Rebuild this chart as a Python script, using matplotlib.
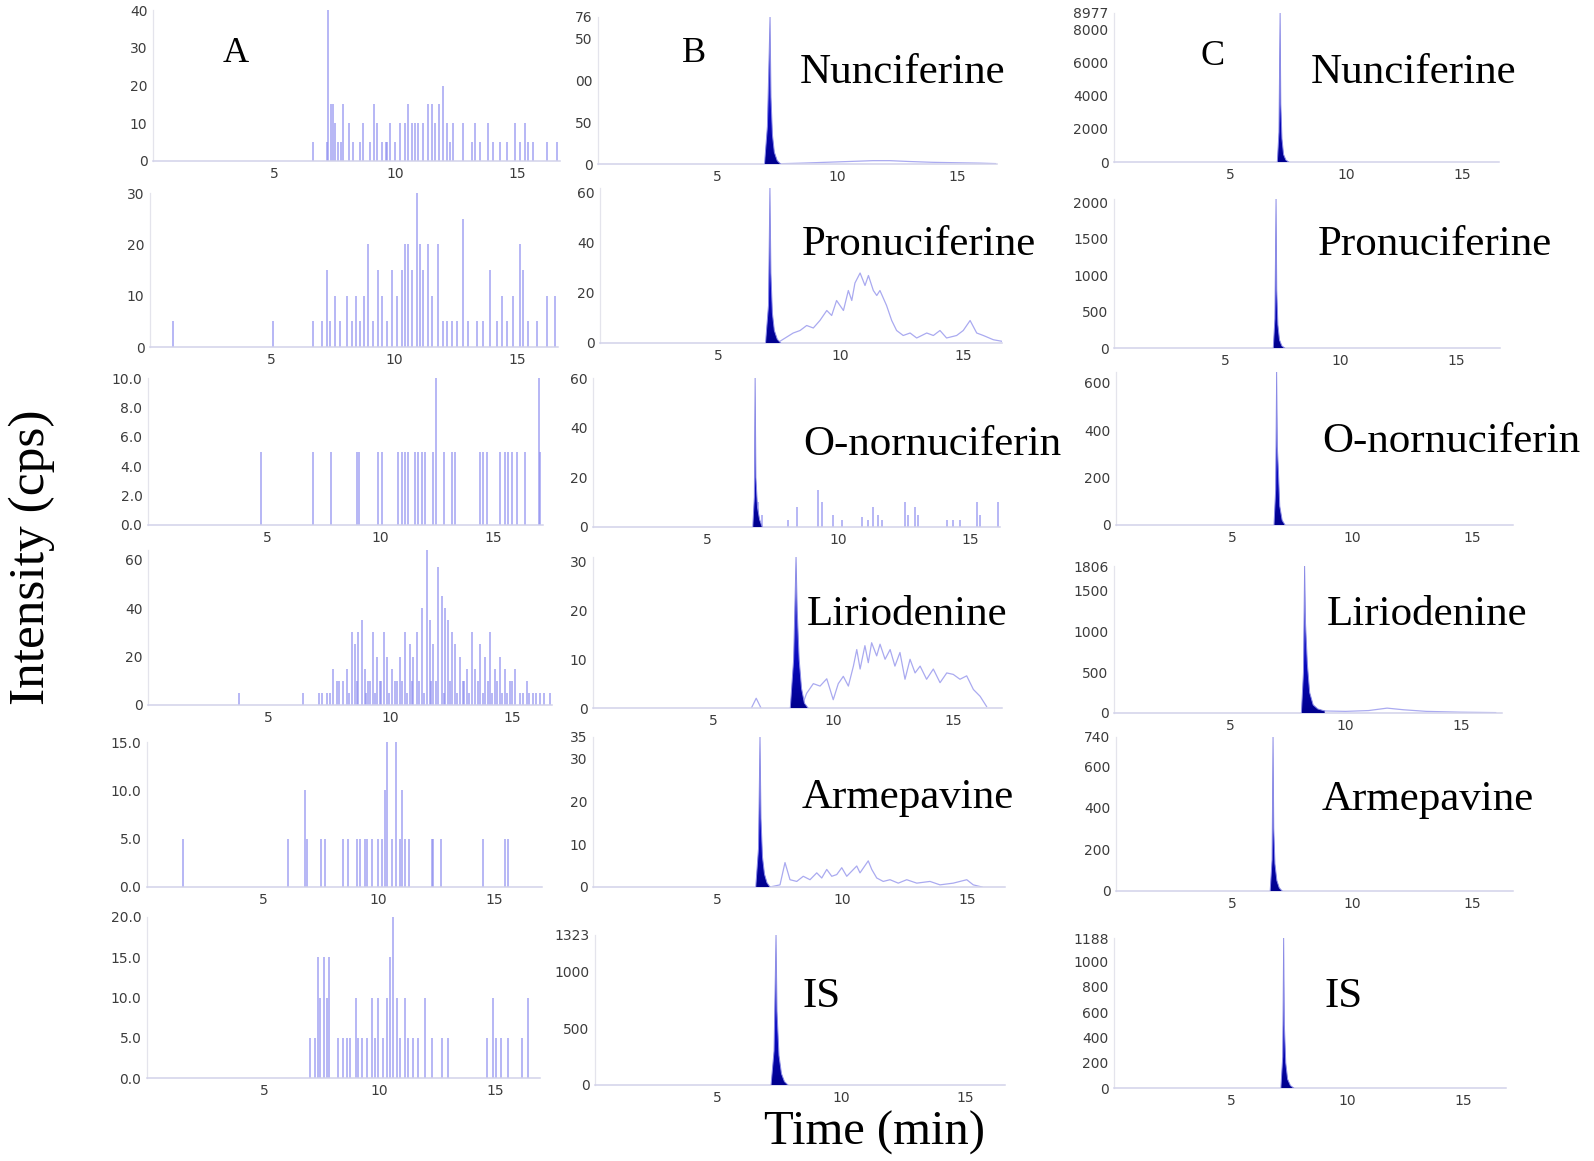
import numpy as np
import matplotlib
matplotlib.use("Agg")
import matplotlib.pyplot as plt
from matplotlib.colors import LinearSegmentedColormap

W, H = 1594, 1161

# ---------------- column A: blank samples, stick noise (time min, cps)
a1_t = [6.62, 7.17, 7.24, 7.33, 7.41, 7.51, 7.65, 7.74, 7.85, 8.10, 8.26, 8.54, 8.65,
        8.95, 9.11, 9.22, 9.43, 9.60, 9.66, 9.77, 9.98, 10.18, 10.39, 10.53, 10.66,
        10.80, 10.94, 11.15, 11.35, 11.49, 11.63, 11.77, 11.97, 12.10, 12.24, 12.38,
        12.79, 13.13, 13.27, 13.48, 13.82, 14.03, 14.30, 14.57, 14.92, 15.12, 15.33,
        15.47, 15.67, 16.22, 16.63]
a1_h = [5, 5, 40, 15, 15, 10, 5, 5, 15, 10, 5, 5, 10, 5, 15, 10, 5, 5, 5, 10, 5, 10, 10,
        15, 10, 10, 10, 10, 15, 15, 10, 15, 20, 10, 5, 10, 10, 5, 10, 5, 10, 5, 5, 5,
        10, 5, 10, 5, 5, 5, 5]

a2_t = [1.0, 5.09, 6.72, 7.06, 7.26, 7.40, 7.60, 7.80, 8.08, 8.28, 8.46, 8.62, 8.78,
        8.96, 9.13, 9.34, 9.50, 9.70, 9.91, 10.11, 10.31, 10.45, 10.58, 10.72, 10.92,
        11.06, 11.19, 11.40, 11.53, 11.80, 12.0, 12.14, 12.35, 12.55, 12.82, 13.02,
        13.36, 13.63, 13.90, 14.17, 14.38, 14.58, 14.85, 15.12, 15.26, 15.46, 15.80,
        16.21, 16.54]
a2_h = [5, 5, 5, 5, 15, 5, 10, 5, 10, 5, 10, 5, 10, 20, 5, 15, 10, 5, 15, 10, 15, 20,
        20, 15, 30, 20, 15, 20, 10, 20, 5, 5, 5, 5, 25, 5, 5, 5, 15, 5, 10, 5, 10, 20,
        15, 5, 5, 10, 10]

a3_t = [4.73, 7.02, 7.82, 8.97, 9.09, 9.93, 10.07, 10.81, 10.96, 11.11, 11.25, 11.55,
        11.70, 11.85, 12.0, 12.36, 12.48, 12.83, 13.17, 13.32, 14.42, 14.57, 14.72,
        15.31, 15.53, 15.68, 15.83, 16.05, 16.42, 17.05, 17.1]
a3_h = [5, 5, 5, 5, 5, 5, 5, 5, 5, 5, 5, 5, 5, 5, 5, 5, 10, 5, 5, 5, 5, 5, 5, 5, 5, 5,
        5, 5, 5, 10, 5]

a4_t = [3.82, 6.42, 7.10, 7.40, 7.68, 7.81, 8.09, 8.22, 8.43, 8.57, 8.70, 8.84, 8.98,
        9.11, 9.32, 9.45, 9.59, 9.75, 9.86, 10.07, 10.20, 10.41, 10.61, 10.82, 10.96,
        11.09, 11.30, 11.50, 11.64, 11.78, 11.98, 12.12, 12.25, 12.39, 12.53, 12.66,
        12.87, 13.0, 13.14, 13.35, 13.48, 13.69, 13.89, 14.10, 14.30, 14.51, 14.71,
        14.92, 15.12, 15.33, 15.60, 15.87, 16.15, 16.56]
a4_h = [5, 5, 5, 5, 15, 10, 10, 15, 30, 25, 30, 35, 15, 10, 30, 20, 10, 30, 20, 15, 10,
        20, 30, 25, 20, 30, 40, 64, 35, 25, 57, 45, 40, 35, 30, 25, 20, 10, 15, 30, 15,
        25, 20, 30, 15, 20, 15, 10, 15, 5, 10, 5, 5, 5]
a4_low_t = [7.2, 7.55, 7.9, 8.3, 8.65, 9.0, 9.2, 9.4, 9.65, 9.95, 10.3, 10.5, 10.7, 10.9,
            11.2, 11.4, 11.7, 11.9, 12.2, 12.45, 12.75, 13.05, 13.25, 13.6, 13.8, 14.0,
            14.2, 14.4, 14.6, 14.8, 15.0, 15.45, 15.7, 16.0, 16.3]
a4_low_h = [5, 5, 10, 5, 10, 5, 10, 5, 10, 5, 10, 10, 5, 10, 10, 5, 10, 10, 5, 10, 5,
            10, 5, 10, 5, 10, 5, 10, 5, 5, 10, 5, 5, 5, 5]

a5_t = [1.55, 6.10, 6.82, 6.89, 7.50, 7.68, 8.48, 8.70, 9.05, 9.20, 9.42, 9.52, 9.70,
        9.99, 10.14, 10.28, 10.35, 10.57, 10.76, 10.93, 11.03, 11.15, 11.30, 12.30,
        12.37, 12.69, 14.54, 15.48, 15.62]
a5_h = [5, 5, 10, 5, 5, 5, 5, 5, 5, 5, 5, 5, 5, 5, 5, 10, 15, 5, 15, 5, 10, 5, 5, 5, 5,
        5, 5, 5, 5]

a6_t = [6.99, 7.21, 7.33, 7.43, 7.59, 7.74, 7.82, 8.22, 8.43, 8.58, 8.72, 8.98, 9.08,
        9.23, 9.45, 9.66, 9.80, 9.95, 10.17, 10.31, 10.46, 10.60, 10.74, 10.89, 11.11,
        11.25, 11.46, 11.68, 11.97, 12.26, 12.69, 12.98, 14.64, 14.90, 15.05, 15.26,
        15.55, 16.15, 16.44]
a6_h = [5, 5, 15, 10, 15, 10, 15, 5, 5, 5, 5, 10, 5, 5, 5, 10, 5, 10, 5, 10, 15, 20, 10,
        5, 10, 5, 5, 5, 10, 5, 5, 5, 5, 10, 5, 5, 5, 5, 10]

# ---------------- column B: spiked samples
b1_peak_t = [6.98, 7.10, 7.21, 7.25, 7.31, 7.39, 7.51, 7.65]
b1_peak_y = [0, 45, 176, 80, 35, 14, 4, 0]
b1_noise_t = [7.6, 8.5, 9.5, 10.5, 11.5, 12.2, 13, 14, 15, 16, 16.6]
b1_noise_y = [0.3, 1, 2, 3, 4, 4, 3, 2, 1.5, 1, 0.5]

b2_peak_t = [6.94, 7.06, 7.12, 7.16, 7.22, 7.30, 7.42, 7.56]
b2_peak_y = [0, 15, 62, 28, 12, 5, 1.5, 0]
b2_noise_t = [7.53, 8.07, 8.35, 8.62, 8.89, 9.16, 9.44, 9.64, 9.84, 10.12, 10.32, 10.46,
              10.59, 10.80, 11.0, 11.14, 11.34, 11.48, 11.61, 11.88, 12.09, 12.29,
              12.56, 12.84, 13.11, 13.52, 13.79, 14.06, 14.33, 14.74, 15.01, 15.29,
              15.56, 15.83, 16.24, 16.58]
b2_noise_y = [0.7, 4, 5, 7, 6, 9, 13, 11, 17, 13, 21, 17, 24, 28, 23, 27, 21, 19, 21,
              15, 9, 5, 3, 4, 2, 4, 3, 5, 2, 3, 5, 9, 4, 3, 1.3, 0.7]

b3_peak_t = [6.74, 6.80, 6.83, 6.86, 6.92, 7.0, 7.1]
b3_peak_y = [0, 12, 60, 20, 8, 3, 0]
b3_spike_t = [6.95, 7.08, 8.09, 8.41, 9.23, 9.36, 9.80, 10.12, 10.88, 11.13, 11.32,
              11.51, 11.64, 12.53, 12.66, 12.91, 13.04, 14.11, 14.37, 14.62, 15.25,
              15.38, 16.08]
b3_spike_h = [10, 5, 3, 8, 15, 10, 5, 3, 4, 3, 8, 5, 3, 10, 5, 8, 5, 3, 3, 3, 10, 5, 10]

b4_peak_t = [8.22, 8.36, 8.46, 8.51, 8.59, 8.69, 8.81, 8.96]
b4_peak_y = [0, 10, 31, 20, 10, 4, 1, 0]
b4_pre_t = [6.6, 6.8, 7.0]
b4_pre_y = [0, 2, 0]
b4_noise_t = [8.75, 8.90, 9.18, 9.46, 9.74, 10.01, 10.22, 10.43, 10.64, 10.85, 10.99,
              11.13, 11.33, 11.47, 11.61, 11.82, 11.96, 12.17, 12.38, 12.58, 12.79,
              13.0, 13.21, 13.42, 13.63, 13.90, 14.18, 14.46, 14.74, 15.01, 15.29,
              15.57, 15.85, 16.13, 16.40]
b4_noise_y = [1, 3, 5, 4.5, 6, 1.7, 5, 6.5, 4.5, 8.6, 12, 8, 12.8, 9.3, 13.4, 10.7,
              13.1, 10, 12, 8.6, 11.4, 5.9, 10, 7.2, 8.6, 5.9, 8, 5.2, 7.2, 6.9, 5.9,
              6.6, 3.8, 2.4, 0.3]

b5_peak_t = [6.55, 6.66, 6.72, 6.76, 6.82, 6.9, 7.0, 7.12]
b5_peak_y = [0, 9, 35, 16, 7, 3, 1, 0]
b5_noise_t = [7.12, 7.52, 7.72, 7.92, 8.19, 8.45, 8.72, 8.99, 9.19, 9.39, 9.59, 9.79,
              9.99, 10.19, 10.39, 10.59, 10.72, 11.05, 11.19, 11.39, 11.65, 11.92,
              12.25, 12.59, 12.99, 13.52, 13.92, 14.45, 14.99, 15.25, 15.6]
b5_noise_y = [0, 0.5, 5.7, 1.7, 1.3, 2.5, 1.7, 3.3, 2.1, 4.1, 2.5, 2.9, 4.5, 2.5, 3.7,
              4.9, 3.3, 6.1, 4.1, 2.1, 1.3, 1.7, 0.9, 1.7, 0.9, 1.3, 0.5, 0.9, 1.7,
              0.5, 0]

b6_peak_t = [7.18, 7.30, 7.38, 7.42, 7.50, 7.60, 7.72, 7.86]
b6_peak_y = [0, 300, 1323, 650, 260, 100, 30, 0]

# ---------------- column C: plasma samples
c1_peak_t = [7.04, 7.11, 7.16, 7.19, 7.24, 7.31, 7.41, 7.53]
c1_peak_y = [0, 1800, 8977, 3500, 1400, 450, 120, 0]
c2_peak_t = [7.09, 7.16, 7.21, 7.24, 7.29, 7.36, 7.46, 7.58]
c2_peak_y = [0, 400, 2050, 800, 320, 110, 30, 0]
c3_peak_t = [6.75, 6.82, 6.86, 6.89, 6.93, 6.99, 7.09, 7.21]
c3_peak_y = [0, 150, 646, 330, 240, 80, 20, 0]
c4_peak_t = [8.09, 8.18, 8.23, 8.27, 8.35, 8.45, 8.6, 8.8, 9.1]
c4_peak_y = [0, 500, 1806, 1100, 600, 250, 100, 50, 25]
c4_noise_t = [9.1, 10, 11, 11.8, 12.5, 13.5, 15, 16.5]
c4_noise_y = [25, 20, 30, 60, 40, 20, 10, 5]
c5_peak_t = [6.59, 6.67, 6.71, 6.74, 6.79, 6.87, 6.97, 7.09]
c5_peak_y = [0, 150, 740, 300, 130, 50, 15, 0]
c6_peak_t = [7.15, 7.23, 7.27, 7.30, 7.36, 7.44, 7.56, 7.7]
c6_peak_y = [0, 250, 1188, 500, 200, 70, 20, 0]

# y ticks (values and printed labels)
yticks = {
    'A1': ([0, 10, 20, 30, 40], ['0', '10', '20', '30', '40']),
    'A2': ([0, 10, 20, 30], ['0', '10', '20', '30']),
    'A3': ([0, 2, 4, 6, 8, 10], ['0.0', '2.0', '4.0', '6.0', '8.0', '10.0']),
    'A4': ([0, 20, 40, 60], ['0', '20', '40', '60']),
    'A5': ([0, 5, 10, 15], ['0.0', '5.0', '10.0', '15.0']),
    'A6': ([0, 5, 10, 15, 20], ['0.0', '5.0', '10.0', '15.0', '20.0']),
    'B1': ([0, 50, 100, 150, 176], ['0', '50', '00', '50', '76']),
    'B2': ([0, 20, 40, 60], ['0', '20', '40', '60']),
    'B3': ([0, 20, 40, 60], ['0', '20', '40', '60']),
    'B4': ([0, 10, 20, 30], ['0', '10', '20', '30']),
    'B5': ([0, 10, 20, 30, 35], ['0', '10', '20', '30', '35']),
    'B6': ([0, 500, 1000, 1323], ['0', '500', '1000', '1323']),
    'C1': ([0, 2000, 4000, 6000, 8000, 8977], ['0', '2000', '4000', '6000', '8000', '8977']),
    'C2': ([0, 500, 1000, 1500, 2000], ['0', '500', '1000', '1500', '2000']),
    'C3': ([0, 200, 400, 600], ['0', '200', '400', '600']),
    'C4': ([0, 500, 1000, 1500, 1806], ['0', '500', '1000', '1500', '1806']),
    'C5': ([0, 200, 400, 600, 740], ['0', '200', '400', '600', '740']),
    'C6': ([0, 200, 400, 600, 800, 1000, 1188],
           ['0', '200', '400', '600', '800', '1000', '1188']),
}
ytop = {'A1': 40, 'A2': 30, 'A3': 10, 'A4': 64, 'A5': 15, 'A6': 20,
        'B1': 176, 'B2': 62, 'B3': 60, 'B4': 31, 'B5': 35, 'B6': 1323,
        'C1': 8977, 'C2': 2050, 'C3': 646, 'C4': 1806, 'C5': 740, 'C6': 1188}

compounds = ['Nunciferine', 'Pronuciferine', 'O-nornuciferin', 'Liriodenine',
             'Armepavine', 'IS']

# ---------------- layout in pixels: left, right, baseline, top, x of "5", x of "15"
BOX = {
    'A1': (153, 560, 161, 10, 274, 517),
    'A2': (150, 558, 347, 193, 271, 517),
    'A3': (148, 543, 525, 378, 267, 493),
    'A4': (148, 552, 705, 550, 268, 512),
    'A5': (147, 542, 887, 742, 263, 494),
    'A6': (147, 540, 1078, 917, 264, 495),
    'B1': (598, 997, 164, 17, 717, 957),
    'B2': (600, 1002, 343, 188, 718, 963),
    'B3': (593, 1000, 527, 378, 707, 970),
    'B4': (593, 1002, 708, 557, 713, 953),
    'B5': (593, 1005, 887, 737, 717, 967),
    'B6': (595, 1005, 1085, 935, 717, 965),
    'C1': (1114, 1499, 162, 13, 1230, 1462),
    'C2': (1114, 1500, 348, 199, 1225, 1456),
    'C3': (1116, 1513, 525, 372, 1232, 1472),
    'C4': (1114, 1502, 713, 566, 1230, 1461),
    'C5': (1116, 1513, 891, 737, 1232, 1472),
    'C6': (1114, 1506, 1088, 938, 1231, 1463),
}
NAME_B = [(800, 83), (802, 255), (803, 455), (807, 625), (802, 808), (803, 1007)]
NAME_C = [(1311, 83), (1318, 255), (1322, 452), (1327, 625), (1322, 810), (1324, 1007)]

STICK = '#8c8cef'
TRACE = '#aaaaf0'
peak_cmap = LinearSegmentedColormap.from_list('peak', ['#00008e', '#0a0ac0', '#3a3ad0', '#c4c4f2'])

fig = plt.figure(figsize=(W / 100, H / 100), dpi=100)


def make_axes(key):
    left, right, base, top, x5, x15 = BOX[key]
    s = (x15 - x5) / 10
    x0 = x5 - 5 * s
    ax = fig.add_axes([left / W, 1 - base / H, (right - left) / W, (base - top) / H])
    ax.patch.set_alpha(0)
    return ax, ((left - x0) / s, (right - x0) / s)


def finish(ax, key, xlim):
    ax.set_xlim(*xlim)
    ax.set_ylim(0, ytop[key])
    vals, labs = yticks[key]
    ax.set_yticks(vals)
    ax.set_yticklabels(labs)
    ax.set_xticks([5, 10, 15])
    ax.set_xticklabels(['5', '10', '15'])
    ax.tick_params(length=0, labelsize=10, labelcolor='#3c3c3c', pad=4)
    for side in ('top', 'right'):
        ax.spines[side].set_visible(False)
    ax.spines['left'].set_color('#e4e4ec')
    ax.spines['bottom'].set_color('#d2d2ea')
    ax.spines['left'].set_linewidth(0.9)
    ax.spines['bottom'].set_linewidth(1.1)


def draw_peak(ax, t, y):
    poly = ax.fill_between(t, y, 0, facecolor='none', edgecolor='none')
    grad = np.linspace(0, 1, 256).reshape(-1, 1)
    im = ax.imshow(grad, cmap=peak_cmap, origin='lower', aspect='auto',
                   extent=(min(t), max(t), 0, max(y)), zorder=3, interpolation='bilinear')
    im.set_clip_path(poly.get_paths()[0], transform=ax.transData)
    ax.plot(t, y, color='#8a8ae6', lw=0.7, zorder=4)


def draw_sticks(ax, t, h):
    ax.vlines(t, 0, h, color=STICK, lw=1.1, alpha=0.8, zorder=2)


def draw_trace(ax, t, y):
    ax.plot(t, y, color=TRACE, lw=0.9, zorder=2)


# column A
for key, t, h in [('A1', a1_t, a1_h), ('A2', a2_t, a2_h), ('A3', a3_t, a3_h),
                  ('A4', a4_t, a4_h), ('A5', a5_t, a5_h), ('A6', a6_t, a6_h)]:
    ax, xl = make_axes(key)
    draw_sticks(ax, t, h)
    if key == 'A4':
        draw_sticks(ax, a4_low_t, a4_low_h)
    finish(ax, key, xl)

# column B
ax, xl = make_axes('B1')
draw_trace(ax, b1_noise_t, b1_noise_y)
draw_peak(ax, b1_peak_t, b1_peak_y)
finish(ax, 'B1', xl)

ax, xl = make_axes('B2')
draw_trace(ax, b2_noise_t, b2_noise_y)
draw_peak(ax, b2_peak_t, b2_peak_y)
finish(ax, 'B2', xl)

ax, xl = make_axes('B3')
draw_sticks(ax, b3_spike_t, b3_spike_h)
draw_peak(ax, b3_peak_t, b3_peak_y)
finish(ax, 'B3', xl)

ax, xl = make_axes('B4')
draw_trace(ax, b4_pre_t, b4_pre_y)
draw_trace(ax, b4_noise_t, b4_noise_y)
draw_peak(ax, b4_peak_t, b4_peak_y)
finish(ax, 'B4', xl)

ax, xl = make_axes('B5')
draw_trace(ax, b5_noise_t, b5_noise_y)
draw_peak(ax, b5_peak_t, b5_peak_y)
finish(ax, 'B5', xl)

ax, xl = make_axes('B6')
draw_peak(ax, b6_peak_t, b6_peak_y)
finish(ax, 'B6', xl)

# column C
for key, t, y in [('C1', c1_peak_t, c1_peak_y), ('C2', c2_peak_t, c2_peak_y),
                  ('C3', c3_peak_t, c3_peak_y), ('C4', c4_peak_t, c4_peak_y),
                  ('C5', c5_peak_t, c5_peak_y), ('C6', c6_peak_t, c6_peak_y)]:
    ax, xl = make_axes(key)
    if key == 'C4':
        draw_trace(ax, c4_noise_t, c4_noise_y)
    draw_peak(ax, t, y)
    finish(ax, key, xl)

serif = 'Liberation Serif'


def ftext(x, y, s, **kw):
    fig.text(x / W, 1 - y / H, s, family=serif, color='black', **kw)


ftext(223, 62, 'A', fontsize=26, va='baseline')
ftext(682, 62, 'B', fontsize=26, va='baseline')
ftext(1200, 65, 'C', fontsize=26, va='baseline')
for name, (x, y) in zip(compounds, NAME_B):
    ftext(x, y, name, fontsize=31, va='baseline')
for name, (x, y) in zip(compounds, NAME_C):
    ftext(x, y, name, fontsize=31, va='baseline')

ftext(32, 557, 'Intensity (cps)', fontsize=37, rotation=90, ha='center', va='center')
ftext(875, 1145, 'Time (min)', fontsize=35, ha='center', va='baseline')

fig.savefig('out.png', dpi=100)
